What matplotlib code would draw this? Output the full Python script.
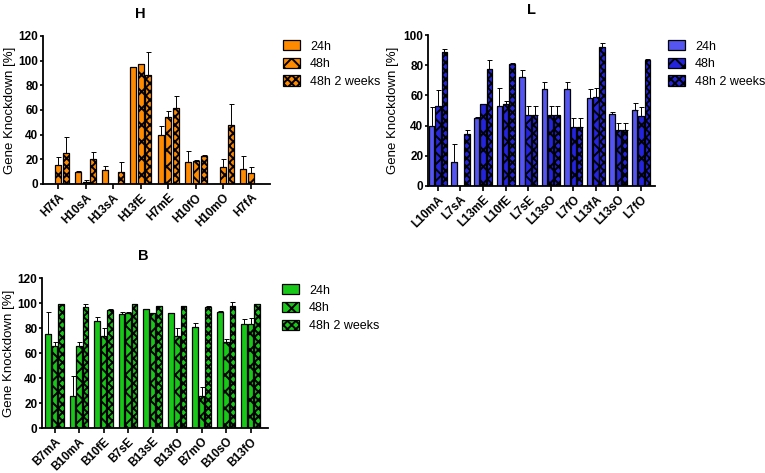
import matplotlib
matplotlib.use("Agg")
import matplotlib.pyplot as plt
import numpy as np

plt.rcParams['font.family'] = ['Liberation Sans', 'DejaVu Sans']
plt.rcParams['hatch.linewidth'] = 1.4

series = ["24h", "48h", "48h 2 weeks"]

# Panel H
h_labels = ["H7fA", "H10sA", "H13sA", "H13fE", "H7mE", "H10fO", "H10mO", "H7fA"]
h_24 = [0, 10, 11, 95, 40, 18, 0, 12]
h_24_err = [0, 0.5, 3.5, 0, 7, 9, 0, 11]
h_48 = [15, 2, 0, 97, 54, 19, 14, 8.7]
h_48_err = [6.5, 1.5, 0, 0, 5, 0.5, 6, 5.3]
h_48w = [25, 20, 10, 88, 61.5, 22.5, 48, 0]
h_48w_err = [13, 6, 7.5, 19, 9.5, 1, 17, 0]

# Panel L
l_labels = ["L10mA", "L7sA", "L13mE", "L10fE", "L7sE", "L13sO", "L7fO", "L13fA", "L13sO", "L7fO"]
l_24 = [40, 16, 45, 53.3, 72, 64.2, 64.2, 58, 48, 50.2]
l_24_err = [12, 12, 1, 11.3, 5, 4.4, 4.4, 6.4, 1, 4.8]
l_48 = [52.9, 0, 54, 54, 47.3, 47.3, 39, 59, 37, 46.2]
l_48_err = [10.6, 0, 0.5, 2, 5.7, 5.7, 6, 5.6, 5, 6.2]
l_48w = [88.5, 34.7, 77.4, 80.5, 47.3, 47.3, 39, 92.3, 37, 83.4]
l_48w_err = [2.5, 2.7, 6, 0.7, 5.7, 5.7, 6, 2.2, 5, 0.5]

# Panel B
b_labels = ["B7mA", "B10mA", "B10fE", "B7sE", "B13sE", "B13fO", "B7mO", "B10sO", "B13fO"]
b_24 = [75, 26, 85.6, 91.2, 95, 91.7, 80.8, 93, 83.2]
b_24_err = [17.5, 16, 3.4, 1.3, 0, 0, 2.9, 0.5, 3.8]
b_48 = [66, 66, 74, 92.3, 92.3, 74, 26, 69, 83.2]
b_48_err = [3, 3, 6, 0.7, 0, 6, 7, 2, 4.5]
b_48w = [99, 97, 94.4, 99, 98, 98, 97, 98, 99]
b_48w_err = [0, 2.5, 1.1, 0, 0, 0, 1, 2.8, 0]

W, H = 765, 473
fig = plt.figure(figsize=(W / 100, H / 100), dpi=100)


def panel(rect, labels, vals, errs, colors, hatches, ylim, yticks, xlim, width,
          step, label_x):
    ax = fig.add_axes(rect)
    x = np.arange(len(labels))
    handles = []
    for i, (v, e) in enumerate(zip(vals, errs)):
        v = np.array(v, dtype=float)
        e = np.array(e, dtype=float)
        pos = x + (i - 1) * step
        bars = ax.bar(pos, v, width, color=colors[i], edgecolor="black",
                      linewidth=0.9, hatch=hatches[i], zorder=2)
        mask = v > 0
        ax.errorbar(pos[mask], v[mask], yerr=[np.zeros(mask.sum()), e[mask]],
                    fmt="none", ecolor="black", elinewidth=0.7, capsize=1.8,
                    capthick=0.7, zorder=3)
        handles.append(bars)
    ax.set_ylim(*ylim)
    ax.set_yticks(yticks)
    ax.set_xlim(*xlim)
    ax.set_xticks(x)
    ax.set_xticklabels(labels, rotation=45, ha="right", rotation_mode="anchor",
                       fontsize=8.5, fontweight="bold")
    for t in ax.get_yticklabels():
        t.set_fontweight("bold")
        t.set_fontsize(8.5)
    ax.spines["top"].set_visible(False)
    ax.spines["right"].set_visible(False)
    ax.spines["left"].set_linewidth(1.3)
    ax.spines["bottom"].set_linewidth(1.3)
    ax.tick_params(axis="y", width=1.2, length=2.5, pad=0.8)
    ax.tick_params(axis="x", width=1.2, length=3.5, pad=2)
    ax.set_ylabel("Gene Knockdown [%]", fontsize=9.5)
    ax.yaxis.set_label_coords(label_x, 0.5)
    return ax, handles


def legend(handles, x_px, top_px):
    fig.legend(handles, series, loc="upper left",
               bbox_to_anchor=(x_px / W, 1 - top_px / H),
               frameon=False, fontsize=9, handlelength=1.36, handleheight=0.9,
               labelspacing=0.42, handletextpad=0.8, borderpad=0,
               borderaxespad=0)


# H
orange = "#FF8A00"
axH, hH = panel([43 / W, 1 - 184 / H, (270 - 43) / W, (184 - 36) / H],
                h_labels, [h_24, h_48, h_48w], [h_24_err, h_48_err, h_48w_err],
                [orange] * 3, ["", "XX", "xxxx"], (0, 120), range(0, 121, 20),
                (-0.544, 7.69), 0.22, 0.28, (16 - 43) / 227)
fig.text(140 / W, 1 - 14 / H, "H", fontsize=10.5, fontweight="bold",
         ha="center", va="center")
legend(hH, 283, 40)

# L
blue = "#5555F2"
blue2 = "#2424DD"
axL, hL = panel([428 / W, 1 - 186 / H, (655 - 428) / W, (186 - 35) / H],
                l_labels, [l_24, l_48, l_48w], [l_24_err, l_48_err, l_48w_err],
                [blue, blue2, blue2], ["", "XX", "xxxx"], (0, 100), range(0, 101, 20),
                (-0.44, 9.62), 0.24, 0.28, (399 - 428) / 227)
fig.text(532 / W, 1 - 10 / H, "L", fontsize=10.5, fontweight="bold",
         ha="center", va="center")
legend(hL, 668, 40)

# B
green = "#18C818"
axB, hB = panel([42 / W, 1 - 428 / H, (268 - 42) / W, (428 - 278) / H],
                b_labels, [b_24, b_48, b_48w], [b_24_err, b_48_err, b_48w_err],
                [green] * 3, ["", "XX", "xxxx"], (0, 120), range(0, 121, 20),
                (-0.51, 8.71), 0.23, 0.26, (15 - 42) / 226)
fig.text(143 / W, 1 - 256 / H, "B", fontsize=10.5, fontweight="bold",
         ha="center", va="center")
legend(hB, 282, 284)

fig.savefig("out.png", dpi=100)
